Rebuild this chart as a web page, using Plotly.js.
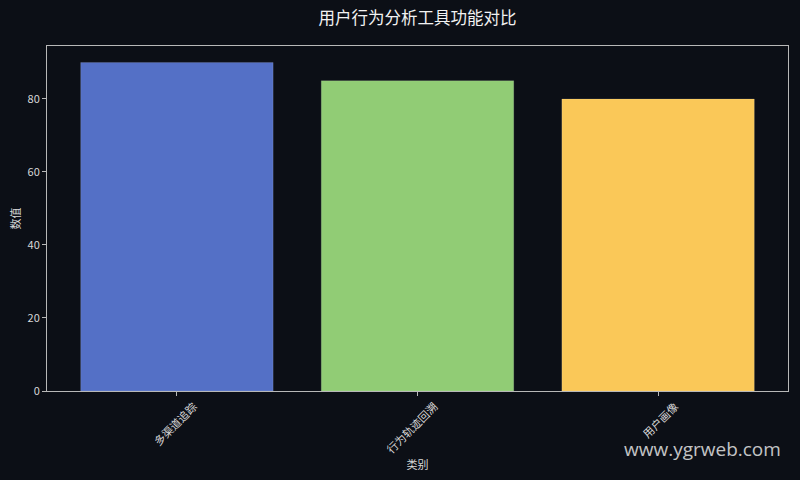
<!DOCTYPE html>
<html>
<head>
<meta charset="utf-8">
<script src="https://cdn.plot.ly/plotly-3.0.1.min.js"></script>
<style>
  html, body { margin: 0; padding: 0; background: #0c0f16; }
  #chart { width: 800px; height: 480px; }
</style>
</head>
<body>
<div id="chart"></div>
<script>
// chart data
const categories = ['多渠道追踪', '行为轨迹回溯', '用户画像'];
const values = [90, 85, 80];
const barColors = ['#5470c6', '#91cc75', '#fac858'];

const FONT = '"Noto Sans CJK SC", "DejaVu Sans", sans-serif';
const BG = '#0c0f16';
const AXIS = '#b8b8b8';

const axisBase = {
    showline: true,
    linecolor: AXIS,
    linewidth: 1,
    mirror: true,
    showgrid: false,
    zeroline: false,
    ticks: 'outside',
    ticklen: 4,
    tickcolor: AXIS,
    tickfont: { family: FONT, size: 11, color: '#d8d8d8' }
};

Plotly.newPlot('chart', [{
    type: 'bar',
    x: categories,
    y: values,
    width: 0.8,
    marker: {
        color: barColors,
        line: { color: 'rgba(255,255,255,0.25)', width: 0.5 }
    },
    hoverinfo: 'x+y'
}], {
    width: 800,
    height: 480,
    paper_bgcolor: BG,
    plot_bgcolor: BG,
    font: { family: FONT, color: '#e0e0e0' },
    margin: { l: 47, r: 12, t: 46, b: 89 },
    title: {
        text: '用户行为分析工具功能对比',
        font: { family: FONT, size: 16.5, color: '#f2f2f2' },
        xref: 'paper', x: 0.5, xanchor: 'center', y: 0.962, yanchor: 'middle'
    },
    xaxis: Object.assign({}, axisBase, {
        type: 'category',
        range: [-0.54, 2.54],
        tickangle: -45,
        ticklabelshift: 17,
        title: { text: '类别', font: { family: FONT, size: 11, color: '#d8d8d8' }, standoff: 3 }
    }),
    yaxis: Object.assign({}, axisBase, {
        range: [0, 94.5],
        tickvals: [0, 20, 40, 60, 80],
        title: { text: '数值', font: { family: FONT, size: 11, color: '#d8d8d8' }, standoff: 4 }
    }),
    annotations: [{
        text: 'www.ygrweb.com',
        xref: 'paper', yref: 'paper',
        x: 0.993, y: -0.168,
        xanchor: 'right', yanchor: 'middle',
        showarrow: false,
        font: { family: '"Open Sans", "DejaVu Sans", sans-serif', size: 19, color: 'rgba(230,230,230,0.85)' }
    }],
    bargap: 0.2,
    showlegend: false
}, { displayModeBar: false, responsive: false });
</script>
</body>
</html>
